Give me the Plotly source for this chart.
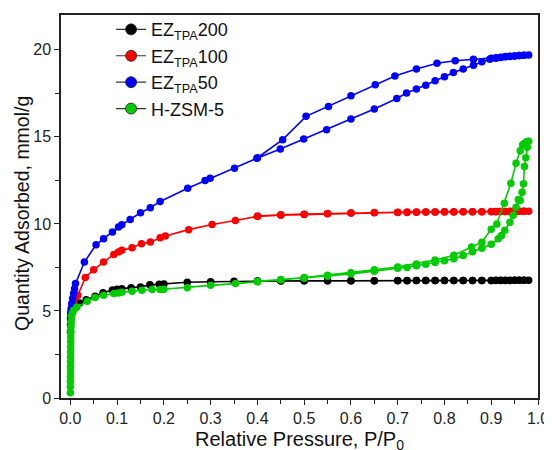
import plotly.graph_objects as go

# ---------------- data ----------------
names = ["EZ<sub>TPA</sub>200", "EZ<sub>TPA</sub>100", "EZ<sub>TPA</sub>50", "H-ZSM-5"]
colors = ["#000000", "#ff0000", "#0000ff", "#00cc00"]

ez200_x = [0.0002, 0.0005, 0.001, 0.002, 0.004, 0.007, 0.01, 0.02, 0.034, 0.053, 0.07, 0.09, 0.1, 0.11,
           0.13, 0.15, 0.17, 0.19, 0.2, 0.25, 0.3, 0.35, 0.4, 0.45, 0.5, 0.55, 0.6, 0.65, 0.7, 0.72, 0.74,
           0.76, 0.78, 0.8, 0.82, 0.84, 0.86, 0.88, 0.9, 0.91, 0.92, 0.93, 0.94, 0.95, 0.96, 0.97, 0.98,
           0.97, 0.96, 0.95, 0.94, 0.93, 0.92, 0.91, 0.9, 0.88, 0.86, 0.84, 0.82, 0.8, 0.78, 0.76, 0.74,
           0.72, 0.7, 0.65, 0.6, 0.55, 0.5, 0.45, 0.4]
ez200_y = [3.8, 4.2, 4.5, 4.75, 4.95, 5.1, 5.2, 5.45, 5.65, 5.85, 6.05, 6.2, 6.25, 6.28,
           6.34, 6.38, 6.5, 6.53, 6.55, 6.65, 6.68, 6.7, 6.72, 6.72, 6.73, 6.73, 6.74, 6.74, 6.74, 6.74, 6.75,
           6.75, 6.75, 6.75, 6.75, 6.75, 6.75, 6.75, 6.75, 6.75, 6.75, 6.75, 6.75, 6.76, 6.76, 6.76, 6.76,
           6.76, 6.76, 6.76, 6.76, 6.76, 6.76, 6.76, 6.75, 6.75, 6.75, 6.75, 6.75, 6.75, 6.75, 6.75, 6.75,
           6.75, 6.75, 6.74, 6.74, 6.74, 6.73, 6.73, 6.72]

ez100_x = [0.0005, 0.001, 0.002, 0.004, 0.007, 0.01, 0.016, 0.032, 0.05, 0.071, 0.093, 0.103, 0.11,
           0.132, 0.152, 0.171, 0.192, 0.203, 0.253, 0.303, 0.353, 0.4, 0.45, 0.5, 0.55, 0.6, 0.65,
           0.7, 0.72, 0.74, 0.76, 0.78, 0.8, 0.82, 0.84, 0.86, 0.88, 0.9, 0.91, 0.92, 0.93, 0.94, 0.95,
           0.96, 0.97, 0.98,
           0.97, 0.96, 0.95, 0.94, 0.93, 0.92, 0.91, 0.9, 0.88, 0.86, 0.84, 0.82, 0.8, 0.78, 0.76, 0.74,
           0.72, 0.7, 0.65, 0.6, 0.55, 0.5, 0.45, 0.4]
ez100_y = [4.6, 4.9, 5.1, 5.35, 5.6, 5.75, 5.9, 6.92, 7.37, 7.81, 8.25, 8.39, 8.48,
           8.63, 8.86, 8.96, 9.21, 9.3, 9.67, 9.97, 10.2, 10.43, 10.5, 10.54, 10.58, 10.62, 10.64,
           10.66, 10.66, 10.67, 10.68, 10.68, 10.69, 10.69, 10.7, 10.7, 10.7, 10.7, 10.7, 10.71, 10.71,
           10.71, 10.72, 10.72, 10.72, 10.72,
           10.72, 10.72, 10.72, 10.72, 10.71, 10.71, 10.71, 10.71, 10.7, 10.7, 10.7, 10.7, 10.7, 10.69,
           10.69, 10.68, 10.68, 10.67, 10.65, 10.63, 10.6, 10.56, 10.52, 10.45]

ez50_x = [0.0005, 0.001, 0.002, 0.003, 0.005, 0.007, 0.009, 0.011, 0.03, 0.055, 0.071, 0.09, 0.103,
          0.11, 0.128, 0.15, 0.171, 0.192, 0.251, 0.288, 0.299, 0.351, 0.399, 0.449, 0.499, 0.548, 0.6,
          0.65, 0.698, 0.719, 0.74, 0.76, 0.78, 0.8, 0.819, 0.84, 0.862, 0.88, 0.897, 0.91, 0.92, 0.93,
          0.94, 0.95, 0.96, 0.97, 0.98,
          0.97, 0.96, 0.95, 0.94, 0.93, 0.92, 0.91, 0.9, 0.862, 0.823, 0.784, 0.74, 0.694, 0.652, 0.6,
          0.552, 0.504, 0.454, 0.4]
ez50_y = [4.6, 4.9, 5.14, 5.43, 5.71, 6.0, 6.28, 6.57, 7.81, 8.8, 9.15, 9.53, 9.82,
          9.95, 10.26, 10.64, 10.93, 11.29, 12.05, 12.49, 12.62, 13.2, 13.77, 14.3, 14.88, 15.41, 16.03,
          16.6, 17.2, 17.52, 17.75, 17.97, 18.22, 18.45, 18.7, 18.9, 19.12, 19.31, 19.46, 19.52, 19.56,
          19.6, 19.62, 19.65, 19.67, 19.69, 19.7,
          19.69, 19.67, 19.65, 19.63, 19.61, 19.58, 19.55, 19.52, 19.46, 19.37, 19.23, 18.9, 18.5,
          17.99, 17.36, 16.75, 16.18, 14.84, 13.8]

hzsm_x = [0.00001, 0.00005, 0.0001, 0.00015, 0.0002, 0.00025, 0.0003, 0.0004, 0.0005, 0.0006, 0.0007,
          0.0008, 0.001, 0.0013, 0.0017, 0.0025, 0.004, 0.007, 0.014, 0.036, 0.053, 0.071, 0.093, 0.103,
          0.11, 0.132, 0.153, 0.175, 0.192, 0.2, 0.25, 0.3, 0.353, 0.4, 0.45, 0.5, 0.55, 0.6, 0.65, 0.7,
          0.72, 0.74, 0.76, 0.78, 0.8, 0.82, 0.84, 0.86, 0.88, 0.9, 0.915, 0.922, 0.929, 0.94, 0.947,
          0.953, 0.958, 0.962, 0.966, 0.969, 0.971, 0.974, 0.977, 0.98,
          0.975, 0.97, 0.967, 0.962, 0.953, 0.942, 0.928, 0.912, 0.9, 0.88, 0.858, 0.82, 0.78, 0.74,
          0.7, 0.65, 0.6, 0.55, 0.5, 0.45, 0.4]
hzsm_y = [0.3, 0.65, 0.93, 1.22, 1.51, 1.79, 2.08, 2.37, 2.65, 2.94, 3.23,
          3.51, 3.8, 4.09, 4.37, 4.66, 4.85, 5.04, 5.23, 5.56, 5.77, 5.9, 6.0, 6.03,
          6.07, 6.13, 6.19, 6.23, 6.23, 6.25, 6.34, 6.47, 6.57, 6.67, 6.78, 6.88, 7.0, 7.13, 7.28, 7.45,
          7.5, 7.6, 7.68, 7.78, 7.88, 8.0, 8.18, 8.4, 8.6, 8.83, 9.15, 9.34, 9.63, 10.1, 10.5,
          10.95, 11.4, 11.35, 11.82, 12.3, 13.3, 13.8, 14.4, 14.75,
          14.72, 14.6, 14.55, 14.2, 13.48, 12.34, 11.19, 10.0, 9.7, 8.95, 8.67, 8.2, 7.92, 7.7,
          7.52, 7.36, 7.2, 7.05, 6.92, 6.8, 6.7]

xs = [ez200_x, ez100_x, ez50_x, hzsm_x]
ys = [ez200_y, ez100_y, ez50_y, hzsm_y]

x_ticks = [0.0, 0.1, 0.2, 0.3, 0.4, 0.5, 0.6, 0.7, 0.8, 0.9, 1.0]
x_ticklabels = ["0.0", "0.1", "0.2", "0.3", "0.4", "0.5", "0.6", "0.7", "0.8", "0.9", "1.0"]
y_ticks = [0, 5, 10, 15, 20]

# ---------------- figure ----------------
FONT = "Arial, Liberation Sans, sans-serif"
fig = go.Figure()

for i in range(4):
    fig.add_trace(go.Scatter(
        x=xs[i], y=ys[i], mode="lines+markers", showlegend=False,
        line=dict(color=colors[i], width=1.6),
        marker=dict(color=colors[i], size=7.5, symbol="circle"),
    ))

# legend-only entries (grey connecting line, coloured marker with dark outline)
for i in range(4):
    fig.add_trace(go.Scatter(
        x=[None], y=[None], mode="lines+markers", name=names[i],
        line=dict(color="#333333", width=1.2),
        marker=dict(color=colors[i], size=11, line=dict(color="#222222", width=0.8)),
    ))

# the page body has an 8px margin, so the figure is sized to the visible 544x442 area
fig.update_layout(
    width=544, height=442,
    margin=dict(l=53, r=14, t=7, b=52, autoexpand=False),
    paper_bgcolor="white", plot_bgcolor="white",
    font=dict(family=FONT, color="#111111"),
    showlegend=True,
    legend=dict(x=0.105, y=1.01, xanchor="left", yanchor="top",
                bgcolor="rgba(0,0,0,0)", font=dict(size=18, family=FONT, color="#111111"),
                tracegroupgap=0, itemwidth=30),
    annotations=[
        dict(text="Quantity Adsorbed, mmol/g", textangle=-90,
             xref="paper", yref="paper", x=-0.082, y=0.483, xanchor="center", yanchor="middle",
             showarrow=False, font=dict(size=19.5, family=FONT, color="#111111")),
        dict(text="Relative Pressure, P/P<sub>0</sub>",
             xref="paper", yref="paper", x=0.5, y=-0.072, xanchor="center", yanchor="top",
             showarrow=False, font=dict(size=20, family=FONT, color="#111111")),
    ],
)

fig.update_xaxes(
    range=[-0.02, 1.0], tickvals=x_ticks, ticktext=x_ticklabels,
    showgrid=False, zeroline=False, automargin=False,
    showline=True, linecolor="#222222", linewidth=1.5, mirror=True,
    ticks="outside", ticklen=5, tickwidth=1.2, tickcolor="#222222",
    tickfont=dict(size=16, family=FONT, color="#222222"),
    minor=dict(ticks="outside", dtick=0.05, tick0=0, ticklen=4, tickwidth=1.2, tickcolor="#222222"),
)
fig.update_yaxes(
    range=[0, 22], tickvals=y_ticks,
    showgrid=False, zeroline=False, automargin=False,
    showline=True, linecolor="#222222", linewidth=1.5, mirror=True,
    ticks="outside", ticklen=5, tickwidth=1.2, tickcolor="#222222",
    tickfont=dict(size=16, family=FONT, color="#222222"),
    minor=dict(ticks="outside", dtick=2.5, tick0=0, ticklen=4, tickwidth=1.2, tickcolor="#222222"),
)

fig.write_html("out.html")
